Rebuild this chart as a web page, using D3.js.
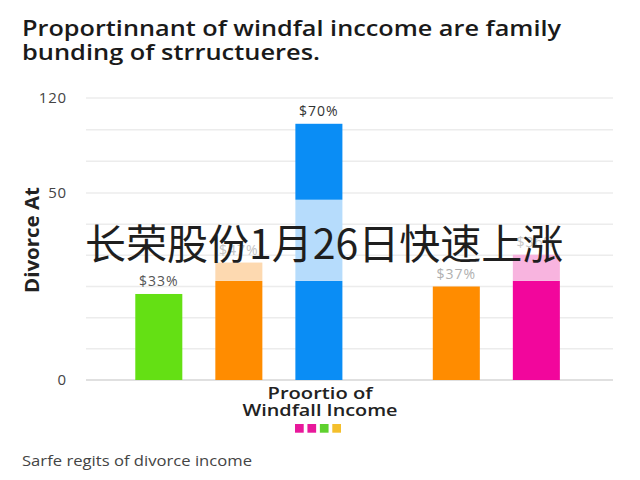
<!DOCTYPE html>
<html>
<head>
<meta charset="utf-8">
<script src="https://cdn.jsdelivr.net/npm/d3@7"></script>
<style>
  body { margin: 0; background: #fff; }
  svg { display: block; }
</style>
</head>
<body>
<svg id="chart" width="640" height="480"></svg>
<script>
// bars, split in two groups
const groups = ["Group 1", "Group 2"];
const categories = ["Green", "Orange 1", "Blue", "Orange 2", "Pink"];
const categoryGroup = ["Group 1", "Group 1", "Group 1", "Group 2", "Group 2"];

// stacked segments (solid base, pale middle, solid top)
const baseValues = [23, 26.5, 26.5, 25, 26.5];
const paleValues = [0, 4.9, 21.7, 0, 7];
const topValues = [0, 0, 52.8, 0, 0];
const barLabels = ["$33%", "$47%", "$70%", "$37%", "$36%"];

// y axis tick labels
const yTicks = [0, 50, 120];

const titleLines = ["Proportinnant of windfal inccome are family", "bunding of strructueres."];
const xTitleLines = ["Proortio of", "Windfall Income"];
const yTitle = "Divorce At";
const footnote = "Sarfe regits of divorce income";
const watermark = "长荣股份1月26日快速上涨";

// colours
const solidColor = { "Green": "#64e014", "Orange 1": "#ff8c00", "Blue": "#0a8df5", "Orange 2": "#ff8c00", "Pink": "#f2069c" };
const paleColor = { "Orange 1": "#fdd9b0", "Blue": "#b6dcfc", "Pink": "#f8b4df" };
const labelColor = { "Green": "#555", "Orange 1": "#c4c4c4", "Blue": "#333", "Orange 2": "#b0b0b0", "Pink": "#c8c8c8" };
const legendColors = ["#e8189b", "#e8189b", "#5fd12e", "#f4bf2c"];

const svg = d3.select("#chart");
svg.append("rect").attr("width", 640).attr("height", 480).attr("fill", "#fff");

const left = 86, right = 613;

// the y axis is stretched: 0-50 takes most of the height
const y = d3.scaleLinear().domain([0, 50, 120]).range([380, 193, 98]);
const gridValues = d3.range(0, 50, 50 / 6).concat(d3.range(50, 121, 70 / 3));

const outer = d3.scaleBand().domain(groups).range([118.8, 656.4]).paddingInner(0.193);
const inner = d3.scaleBand().domain([0, 1, 2]).range([0, outer.bandwidth()])
    .paddingInner(0.4125).paddingOuter(0.206);

const bars = categories.map((c, i) => {
    const slot = categoryGroup.slice(0, i).filter(g => g === categoryGroup[i]).length;
    return {
        name: c,
        x: outer(categoryGroup[i]) + inner(slot),
        base: baseValues[i],
        pale: paleValues[i],
        top: topValues[i],
        label: barLabels[i]
    };
});

// grid
svg.append("g").selectAll("line").data(gridValues).join("line")
    .attr("x1", left).attr("x2", right)
    .attr("y1", d => y(d)).attr("y2", d => y(d))
    .attr("stroke", d => d === 0 ? "#d6d6d6" : "#ececec")
    .attr("stroke-width", 1.5);

// y axis labels
const yAxis = d3.axisLeft(y).tickValues(yTicks).tickSize(0).tickPadding(0);
svg.append("g").attr("transform", "translate(67,0)").call(yAxis)
    .call(g => g.select(".domain").remove())
    .call(g => g.selectAll("text")
        .attr("font-family", "Open Sans, sans-serif")
        .attr("font-size", 15).attr("fill", "#444")
        .attr("letter-spacing", 0.8));

// bars
const bw = inner.bandwidth();
const barG = svg.append("g");
bars.forEach(d => {
    const segs = [
        { y0: 0, y1: d.base, color: solidColor[d.name] },
        { y0: d.base, y1: d.base + d.pale, color: paleColor[d.name] },
        { y0: d.base + d.pale, y1: d.base + d.pale + d.top, color: solidColor[d.name] }
    ].filter(s => s.y1 > s.y0);
    barG.append("g").selectAll("rect").data(segs).join("rect")
        .attr("x", d.x).attr("width", bw)
        .attr("y", s => y(s.y1))
        .attr("height", s => y(s.y0) - y(s.y1))
        .attr("fill", s => s.color);
});

// value labels
svg.append("g").selectAll("text").data(bars).join("text")
    .attr("x", d => d.x + bw / 2)
    .attr("y", d => y(d.base + d.pale + d.top) - 8)
    .attr("text-anchor", "middle")
    .attr("font-family", "Open Sans, sans-serif")
    .attr("font-size", 14)
    .attr("letter-spacing", 1)
    .attr("fill", d => labelColor[d.name])
    .text(d => d.label);

// title
const titleWidths = [539, 298];
svg.append("g").selectAll("text").data(titleLines).join("text")
    .attr("x", 22).attr("y", (d, i) => 36 + i * 24)
    .attr("font-family", "Open Sans, sans-serif")
    .attr("font-weight", 600)
    .attr("font-size", 21)
    .attr("fill", "#1a1a1a")
    .attr("textLength", (d, i) => titleWidths[i])
    .attr("lengthAdjust", "spacingAndGlyphs")
    .text(d => d);

// y title
svg.append("text")
    .attr("transform", "translate(39,240) rotate(-90)")
    .attr("text-anchor", "middle")
    .attr("font-family", "Open Sans, sans-serif")
    .attr("font-weight", 700)
    .attr("font-size", 20)
    .attr("fill", "#222")
    .attr("textLength", 106)
    .attr("lengthAdjust", "spacingAndGlyphs")
    .text(yTitle);

// x title
const xTitleWidths = [105, 155];
svg.append("g").selectAll("text").data(xTitleLines).join("text")
    .attr("x", 320).attr("y", (d, i) => 399 + i * 17)
    .attr("text-anchor", "middle")
    .attr("font-family", "Open Sans, sans-serif")
    .attr("font-weight", 600)
    .attr("font-size", 17)
    .attr("fill", "#222")
    .attr("textLength", (d, i) => xTitleWidths[i])
    .attr("lengthAdjust", "spacingAndGlyphs")
    .text(d => d);

// legend swatches
const legendX = d3.scaleBand().domain(d3.range(legendColors.length)).range([295, 341]).paddingInner(0.3);
svg.append("g").selectAll("rect").data(legendColors).join("rect")
    .attr("x", (d, i) => legendX(i)).attr("y", 424)
    .attr("width", legendX.bandwidth()).attr("height", legendX.bandwidth())
    .attr("fill", d => d);

// footnote
svg.append("text")
    .attr("x", 22).attr("y", 466)
    .attr("font-family", "Open Sans, sans-serif")
    .attr("font-size", 14)
    .attr("fill", "#444")
    .attr("textLength", 230)
    .attr("lengthAdjust", "spacingAndGlyphs")
    .text(footnote);

// watermark across the chart
svg.append("text")
    .attr("x", 85).attr("y", 259)
    .attr("font-family", "Noto Sans CJK SC, sans-serif")
    .attr("font-size", 41)
    .attr("fill", "#1e1e1e")
    .text(watermark);
</script>
</body>
</html>
